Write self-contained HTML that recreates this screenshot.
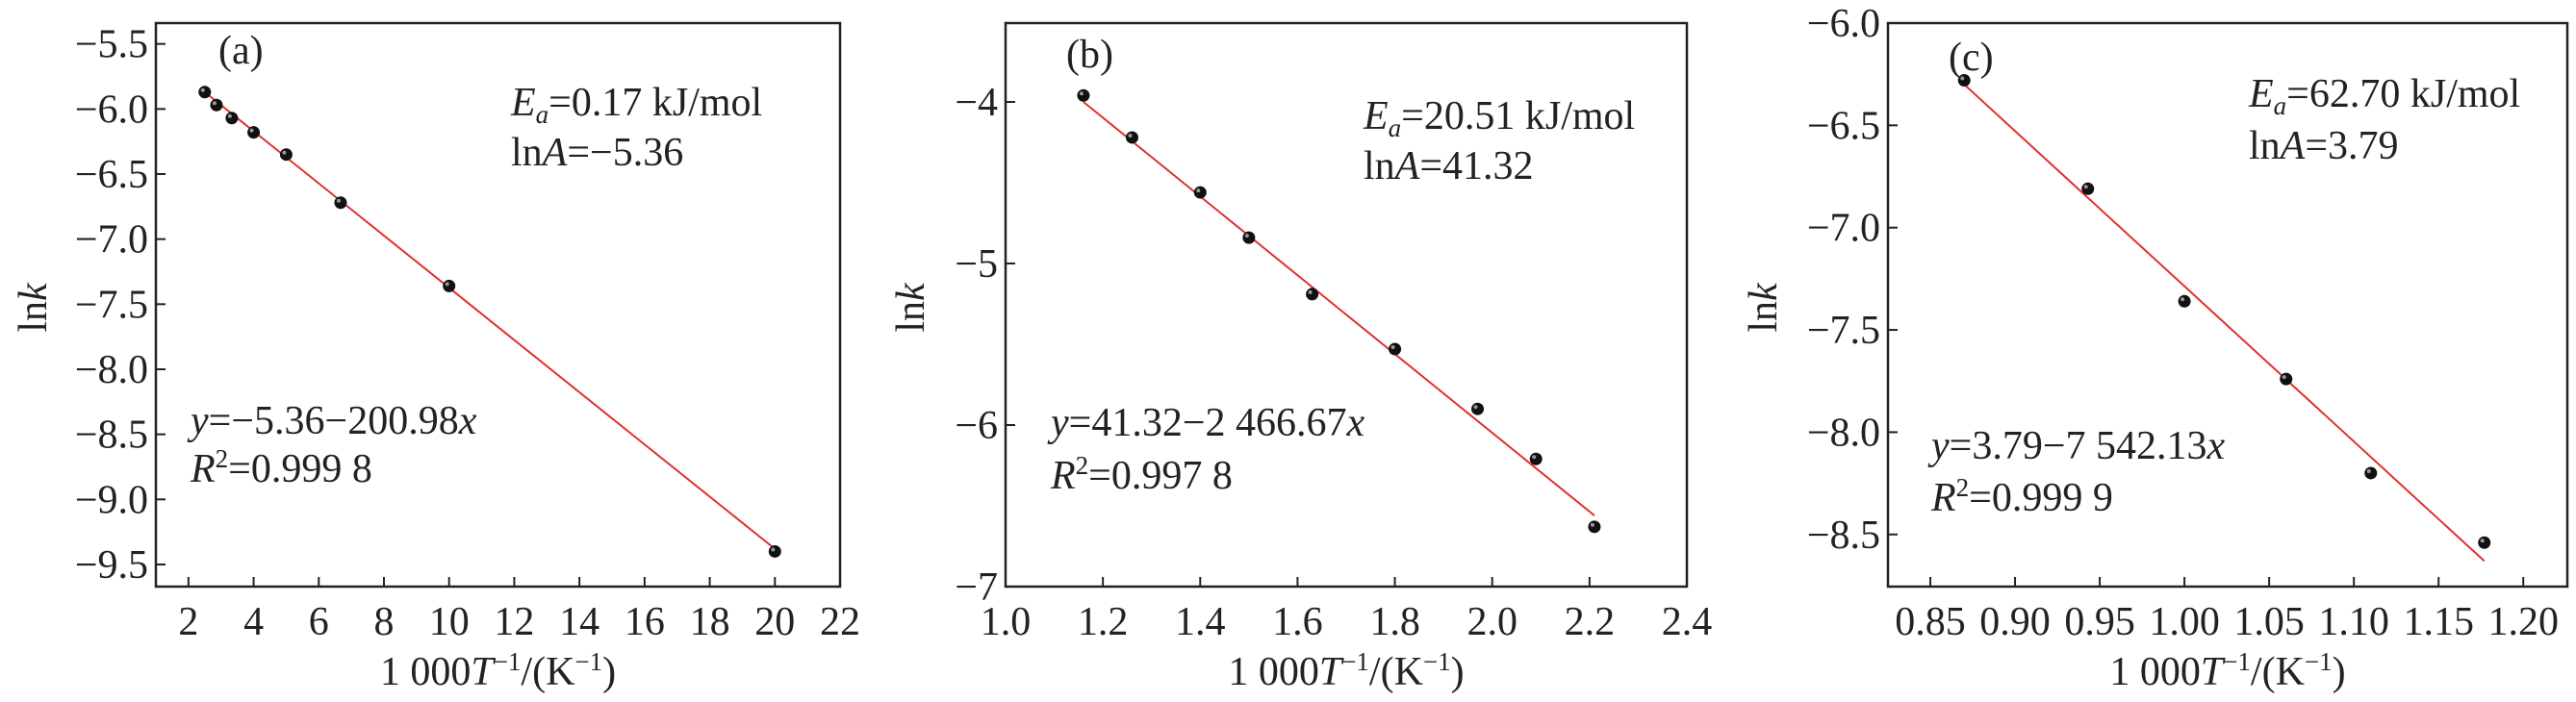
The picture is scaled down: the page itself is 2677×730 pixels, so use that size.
<!DOCTYPE html>
<html><head><meta charset="utf-8"><style>
html,body{margin:0;padding:0;background:#fff;}
svg{display:block;}
text{font-family:"Liberation Serif",serif;fill:#222;}
</style></head><body>
<svg id="s" width="2677" height="730" viewBox="0 0 2677 730" xmlns="http://www.w3.org/2000/svg"></svg>
<script>
const S=document.getElementById('s');let h='';const FS=42,SS=27;
function panel(p){
  const {L,R,T,B,x0,x1,y0,y1,xt,yt,xd,yd,pts,line,fx,ylx}=p;
  const X=v=>L+(v-x0)/(x1-x0)*(R-L), Y=v=>T+(v-y0)/(y1-y0)*(B-T);
  h+=`<rect x="${L}" y="${T}" width="${R-L}" height="${B-T}" fill="none" stroke="#222" stroke-width="2.5"/>`;
  xt.forEach(v=>{const x=X(v);h+=`<line x1="${x}" y1="${B}" x2="${x}" y2="${B-10}" stroke="#222" stroke-width="2"/>`;
    h+=`<text x="${x}" y="660" font-size="${FS}" text-anchor="middle">${v.toFixed(xd)}</text>`;});
  yt.forEach(v=>{const y=Y(v);h+=`<line x1="${L}" y1="${y}" x2="${L+10}" y2="${y}" stroke="#222" stroke-width="2"/>`;
    h+=`<text x="${L-8}" y="${y+14}" font-size="${FS}" text-anchor="end">\u2212${Math.abs(v).toFixed(yd)}</text>`;});
  h+=`<line x1="${X(line[0])}" y1="${Y(line[1])}" x2="${X(line[2])}" y2="${Y(line[3])}" stroke="#e03030" stroke-width="2"/>`;
  pts.forEach(([a,b])=>{h+=`<circle cx="${X(a)}" cy="${Y(b)}" r="6.5" fill="#111"/><circle cx="${X(a)-2}" cy="${Y(b)-2}" r="2" fill="#999"/>`;});
  h+=`<text x="${(L+R)/2}" y="712" font-size="${FS}" text-anchor="middle">1 000<tspan font-style="italic">T</tspan><tspan font-size="${SS}" dy="-15">\u22121</tspan><tspan dy="15">/(K</tspan><tspan font-size="${SS}" dy="-15">\u22121</tspan><tspan dy="15">)</tspan></text>`;
  h+=`<text transform="translate(${ylx},320) rotate(-90)" font-size="${FS}" text-anchor="middle">ln<tspan font-style="italic">k</tspan></text>`;
  h+=fx;
}
function labels(lab,lx,ly,ex,ey,ey2,ea,la,yx,yy,yy2,eq,r2){
  return `<text x="${lx}" y="${ly}" font-size="${FS}">${lab}</text>`+
  `<text x="${ex}" y="${ey}" font-size="${FS}"><tspan font-style="italic">E</tspan><tspan font-style="italic" font-size="${SS}" dy="8">a</tspan><tspan dy="-8">=${ea} kJ/mol</tspan></text>`+
  `<text x="${ex}" y="${ey2}" font-size="${FS}">ln<tspan font-style="italic">A</tspan>=${la}</text>`+
  `<text x="${yx}" y="${yy}" font-size="${FS}"><tspan font-style="italic">y</tspan>=${eq}<tspan font-style="italic">x</tspan></text>`+
  `<text x="${yx}" y="${yy2}" font-size="${FS}"><tspan font-style="italic">R</tspan><tspan font-size="${SS}" dy="-15">2</tspan><tspan dy="15">=${r2}</tspan></text>`;
}
panel({L:162,R:873,T:24,B:610,x0:1,x1:22,y0:-5.34,y1:-9.67,xt:[2,4,6,8,10,12,14,16,18,20,22],xd:0,
 yt:[-5.5,-6,-6.5,-7,-7.5,-8,-8.5,-9,-9.5],yd:1,
 pts:[[2.5,-5.87],[2.86,-5.97],[3.33,-6.07],[4,-6.18],[5,-6.35],[6.67,-6.72],[10,-7.36],[20,-9.40]],
 line:[2.5,-5.87,20,-9.38],ylx:48,
 fx:labels('(a)',227,66,531,120,172,'0.17','\u22125.36',198,451,501,'\u22125.36\u2212200.98','0.999 8')});
panel({L:1045,R:1753,T:24,B:610,x0:1,x1:2.4,y0:-3.512,y1:-7,xt:[1.0,1.2,1.4,1.6,1.8,2.0,2.2,2.4],xd:1,
 yt:[-4,-5,-6,-7],yd:0,
 pts:[[1.16,-3.96],[1.26,-4.22],[1.40,-4.56],[1.50,-4.84],[1.63,-5.19],[1.80,-5.53],[1.97,-5.90],[2.09,-6.21],[2.21,-6.63]],
 line:[1.16,-4.0,2.21,-6.56],ylx:960,
 fx:labels('(b)',1108,70,1417,134,186,'20.51','41.32',1092,453,508,'41.32\u22122 466.67','0.997 8')});
panel({L:1962,R:2668,T:24,B:610,x0:0.825,x1:1.226,y0:-6,y1:-8.755,xt:[0.85,0.9,0.95,1.0,1.05,1.1,1.15,1.2],xd:2,
 yt:[-6,-6.5,-7,-7.5,-8,-8.5],yd:1,
 pts:[[0.87,-6.28],[0.943,-6.81],[1.0,-7.36],[1.06,-7.74],[1.11,-8.2],[1.177,-8.54]],
 line:[0.87,-6.30,1.177,-8.63],ylx:1846,
 fx:labels('(c)',2025,73,2337,111,165,'62.70','3.79',2007,477,531,'3.79\u22127 542.13','0.999 9')});
S.innerHTML=h;
</script>
</body></html>
